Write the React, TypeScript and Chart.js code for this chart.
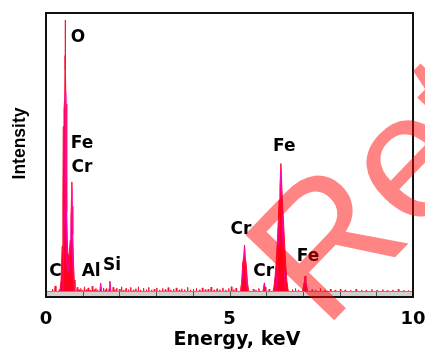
import React, { useEffect, useRef } from "react";
import { Chart, registerables } from "chart.js";

Chart.register(...registerables);

// Main spectrum: peaks (energy keV, intensity)
const peakEnergy = [
  0, 0.16, 0.18, 0.2, 0.23, 0.25, 0.27, 0.3, 0.34, 0.36, 0.38,
  0.41, 0.44, 0.46, 0.47, 0.49, 0.51, 0.52, 0.525, 0.53, 0.545, 0.56, 0.57, 0.585,
  0.6, 0.62, 0.64, 0.66, 0.68, 0.695, 0.705, 0.715, 0.73, 0.75, 0.77, 0.79, 0.82,
  1.45, 1.47, 1.49, 1.51, 1.53, 1.69, 1.72, 1.74, 1.76, 1.79,
  5.24, 5.27, 5.3, 5.33, 5.36, 5.39, 5.41, 5.43, 5.46, 5.49, 5.52, 5.55, 5.58,
  5.88, 5.91, 5.93, 5.95, 5.97, 5.99, 6.02,
  6.15, 6.18, 6.21, 6.24, 6.27, 6.3, 6.33, 6.35, 6.375, 6.4, 6.425, 6.45, 6.47, 6.5, 6.53, 6.56, 6.59, 6.62, 6.65,
  6.95, 6.98, 7.01, 7.04, 7.06, 7.08, 7.11, 7.14, 7.17, 10,
];
const peakCounts = [
  0, 0, 2.8, 0, 1.5, 3.9, 1.5, 0.5, 0.5, 2.6, 2,
  6, 18, 35, 60, 66, 70, 85, 97.5, 80, 68, 55, 30, 18,
  15, 14, 16, 20, 28, 35, 40.5, 32, 22, 12, 6, 3, 0,
  0, 2.5, 4.9, 2.5, 0, 0, 3, 5.6, 3, 0,
  0, 1, 2.5, 5, 12, 14.5, 18.3, 14, 11, 5, 2.5, 1, 0,
  0, 2, 3.5, 5, 3.5, 2, 0,
  0, 1.5, 3.5, 7, 12, 19, 27, 34, 39, 47, 39, 32, 27, 19, 12, 6, 3, 1.2, 0,
  0, 1.5, 3.5, 5.5, 7.4, 5.5, 3.5, 1.5, 0, 0,
];

// Background noise spikes (energy keV, intensity)
const noiseEnergy = [
  0.85, 0.9, 0.95, 1.0, 1.05, 1.1, 1.15, 1.2, 1.26, 1.31, 1.36, 1.41, 1.57, 1.62, 1.66, 1.83, 1.88, 1.93,
  2.0, 2.06, 2.12, 2.18, 2.25, 2.31, 2.38, 2.45, 2.52, 2.58, 2.66, 2.74, 2.8, 2.88, 2.95, 3.02, 3.1, 3.18,
  3.25, 3.33, 3.4, 3.48, 3.55, 3.63, 3.7, 3.78, 3.86, 3.94, 4.02, 4.1, 4.18, 4.26, 4.34, 4.42, 4.5, 4.58,
  4.66, 4.74, 4.82, 4.9, 4.98, 5.05, 5.12, 5.18, 5.65, 5.72, 5.8, 6.08, 6.72, 6.8, 6.88, 7.25, 7.35, 7.48,
  7.6, 7.75, 7.88, 8.02, 8.15, 8.3, 8.45, 8.6, 8.72, 8.88, 9.02, 9.18, 9.3, 9.45, 9.6, 9.75, 9.88,
];
const noiseCounts = [
  3.4, 2.6, 3.0, 2.4, 3.6, 2.6, 3.2, 2.4, 3.8, 2.6, 3.0, 2.5, 3.2, 2.6, 3.0, 3.4, 2.6, 3.1,
  2.8, 3.6, 2.5, 3.0, 2.6, 3.4, 2.5, 2.9, 3.6, 2.5, 3.1, 2.6, 3.4, 2.5, 2.8, 3.2, 2.5, 3.0,
  2.6, 3.3, 2.5, 2.8, 3.2, 2.5, 2.9, 2.6, 3.4, 2.5, 2.8, 3.0, 2.5, 3.2, 2.6, 2.8, 3.5, 2.5,
  2.9, 2.6, 3.2, 2.5, 3.0, 3.6, 2.6, 3.1, 2.8, 2.5, 3.0, 2.8, 2.6, 3.0, 2.5, 2.6, 2.4, 3.0,
  2.5, 2.8, 2.4, 2.7, 2.5, 2.4, 2.8, 2.5, 2.3, 2.7, 2.4, 2.6, 2.3, 2.5, 2.8, 2.4, 2.3,
];

// Magenta overlay trace
const overlayEnergy = [
  0.46, 0.5, 0.515, 0.525, 0.54, 0.57, 0.6, 0.64, 0.67, 0.69, 0.705, 0.72, 0.76, 0.8,
  1.46, 1.49, 1.52, 1.71, 1.74, 1.77,
  5.3, 5.36, 5.39, 5.41, 5.43, 5.46, 5.52, 5.9, 5.95, 6.0,
  6.26, 6.33, 6.37, 6.4, 6.43, 6.47, 6.54, 7.0, 7.06, 7.12,
];
const overlayCounts = [
  0, 30, 50, 72, 40, 12, 9, 14, 22, 30, 38, 14, 3, 0,
  0, 4.4, 0, 0, 5.0, 0,
  0, 9, 14, 17.5, 12, 5, 0, 0, 4.4, 0,
  0, 18, 30, 45, 30, 14, 0, 0, 7, 0,
];

// Element labels
const labelText = ["O", "Fe", "Cr", "C", "Al", "Si", "Cr", "Fe", "Cr", "Fe"];
const labelEnergy = [0.87, 0.98, 0.98, 0.26, 1.23, 1.8, 5.31, 6.49, 5.93, 7.14];
const labelIntensity = [91.4, 53.9, 45.4, 9.0, 9.0, 10.9, 23.6, 52.8, 8.8, 14.1];

const xTickLabels = [0, 5, 10];
const xTitle = "Energy, keV";
const yTitle = "Intensity";
const watermarkText = "Retracted";

export default function App() {
  const ref = useRef<HTMLCanvasElement | null>(null);

  useEffect(() => {
    document.body.style.margin = "0";
    const canvas = ref.current;
    if (!canvas) return;

    const mainPts: { x: number; y: number }[] = peakEnergy.map((e, i) => ({ x: e, y: peakCounts[i] }));
    noiseEnergy.forEach((e, i) => {
      mainPts.push({ x: e - 0.015, y: 0 });
      mainPts.push({ x: e, y: noiseCounts[i] });
      mainPts.push({ x: e + 0.015, y: 0 });
    });
    mainPts.sort((a, b) => a.x - b.x);
    const overlayPts = overlayEnergy.map((e, i) => ({ x: e, y: overlayCounts[i] }));

    const decor = {
      id: "decor",
      afterDatasetsDraw(chart: any) {
        const { ctx, chartArea } = chart;
        const xs = chart.scales.x;
        const ys = chart.scales.y;
        const { left, right, top, bottom } = chartArea;
        ctx.save();
        // gray band
        ctx.fillStyle = "#d2d0cc";
        ctx.fillRect(left, bottom - 5, right - left, 5);
        ctx.strokeStyle = "#8a8a8a";
        ctx.lineWidth = 1;
        ctx.beginPath();
        ctx.moveTo(left, bottom - 5.5);
        ctx.lineTo(right, bottom - 5.5);
        ctx.stroke();
        ctx.strokeStyle = "#555";
        for (let v = 1; v < 10; v++) {
          const px = Math.round(xs.getPixelForValue(v)) + 0.5;
          ctx.beginPath();
          ctx.moveTo(px, bottom - 5);
          ctx.lineTo(px, bottom);
          ctx.stroke();
        }
        // labels
        ctx.fillStyle = "#000";
        ctx.font = "bold 17px 'DejaVu Sans'";
        ctx.textAlign = "center";
        ctx.textBaseline = "middle";
        labelText.forEach((t, i) => {
          ctx.fillText(t, xs.getPixelForValue(labelEnergy[i]), ys.getPixelForValue(labelIntensity[i]));
        });
        // axis titles
        ctx.font = "bold 19px 'DejaVu Sans'";
        ctx.fillText(xTitle, (left + right) / 2 + 7.5, bottom + 43);
        ctx.save();
        ctx.translate(left - 26, (top + bottom) / 2 - 11.5);
        ctx.rotate(-Math.PI / 2);
        ctx.font = "bold 17.5px 'Liberation Sans'";
        ctx.fillText(yTitle, 0, 0);
        ctx.restore();
        // frame
        ctx.strokeStyle = "#111";
        ctx.lineWidth = 2;
        ctx.strokeRect(left, top, right - left, bottom - top);
        ctx.restore();
      },
      afterDraw(chart: any) {
        const { ctx } = chart;
        ctx.save();
        ctx.translate(324, 331);
        ctx.rotate((-46 * Math.PI) / 180);
        ctx.fillStyle = "rgba(255,0,0,0.48)";
        ctx.font = "180px 'Liberation Sans'";
        ctx.textAlign = "left";
        ctx.textBaseline = "alphabetic";
        ctx.fillText(watermarkText, 0, 0);
        ctx.restore();
      },
    };

    const chart = new Chart(canvas, {
      type: "line",
      data: {
        datasets: [
          {
            label: "overlay",
            data: overlayPts,
            borderColor: "rgba(255,0,255,0.6)",
            borderWidth: 1,
            pointRadius: 0,
            fill: false,
            tension: 0,
            order: 0,
          },
          {
            label: "spectrum",
            data: mainPts,
            borderColor: "#ff1030",
            backgroundColor: "#ff0020",
            borderWidth: 1,
            pointRadius: 0,
            fill: "origin",
            tension: 0,
            order: 1,
          },
        ],
      },
      options: {
        responsive: true,
        maintainAspectRatio: false,
        animation: false,
        layout: { padding: { top: 13, right: 12, left: 46, bottom: 12 } },
        plugins: { legend: { display: false }, tooltip: { enabled: false } },
        scales: {
          x: {
            type: "linear",
            min: 0,
            max: 10,
            afterFit: (scale: any) => {
              scale.paddingRight = 0;
              scale.paddingLeft = 0;
            },
            grid: { display: false, drawTicks: false },
            border: { display: false },
            ticks: {
              stepSize: 1,
              autoSkip: false,
              maxRotation: 0,
              padding: 11.7,
              color: "#000",
              font: { family: "'DejaVu Sans'", size: 18, weight: "bold" },
              callback: (v: any) => (xTickLabels.includes(Number(v)) ? String(v) : ""),
            },
            title: { display: false },
          },
          y: {
            display: false,
            min: 0,
            max: 100,
          },
        },
      },
      plugins: [decor],
    });
    return () => chart.destroy();
  }, []);

  return (
    <div style={{ width: 425, height: 354, position: "relative" }}>
      <canvas ref={ref} />
    </div>
  );
}
